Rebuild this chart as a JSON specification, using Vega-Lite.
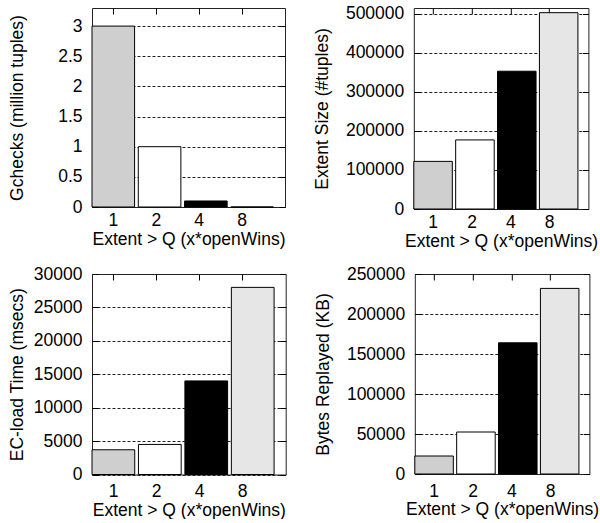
{
  "$schema": "https://vega.github.io/schema/vega-lite/v6.json",
  "background": "white",
  "padding": {"left": 7, "top": 4, "right": 0, "bottom": 0},
  "config": {
    "font": "Liberation Sans",
    "view": {"stroke": "#222", "strokeWidth": 1},
    "axis": {
      "labelFontSize": 17.5, "titleFontSize": 17.5, "titleFontWeight": "normal",
      "labelColor": "#000", "titleColor": "#000", "tickColor": "#000",
      "domain": false
    },
    "axisLeft": {"ticks": true, "tickSize": -6, "labelPadding": 16, "grid": true, "gridColor": "#222", "gridDash": [3, 2]},
    "axisRight": {"ticks": true, "tickSize": -6, "labels": false, "grid": false},
    "axisTop": {"ticks": true, "tickSize": -6, "labels": false, "grid": false},
    "axisBottom": {"ticks": false, "labelAngle": 0, "grid": false}
  },
  "columns": 2,
  "align": {"row": "all", "column": "none"},
  "bounds": "full",
  "spacing": {"row": 11, "column": 25.8},
  "concat": [
    {
      "width": 193, "height": 199,
      "data": {"values": [
        {"extent": "1", "value": 3.0},
        {"extent": "2", "value": 1.0},
        {"extent": "4", "value": 0.1},
        {"extent": "8", "value": 0}
      ]},
      "layer": [
        {
          "mark": {"type": "bar", "stroke": "#000", "strokeWidth": 1},
          "encoding": {
            "x": {"field": "extent", "type": "ordinal", "sort": ["1", "2", "4", "8"],
              "scale": {"paddingInner": 0.08, "paddingOuter": 0.125, "align": 0}, "axis": null},
            "y": {"field": "value", "type": "quantitative",
              "scale": {"domain": [0, 3.3], "nice": false},
              "axis": {"orient": "left", "title": "Gchecks (million tuples)", "values": [0, 0.5, 1, 1.5, 2, 2.5, 3], "format": "~g", "titlePadding": 31}},
            "fill": {"field": "extent", "type": "nominal",
              "scale": {"domain": ["1", "2", "4", "8"], "range": ["#cfcfcf", "#ffffff", "#000000", "#e6e6e6"]}, "legend": null}
          }
        },
        {
          "mark": {"type": "bar", "opacity": 0},
          "encoding": {
            "x": {"field": "extent", "type": "ordinal", "sort": ["1", "2", "4", "8"],
              "scale": {"paddingInner": 0, "paddingOuter": 0.25, "align": 0},
              "axis": {"orient": "bottom", "title": "Extent > Q (x*openWins)", "labelPadding": 4, "titlePadding": 2}},
            "y": {"field": "value", "type": "quantitative", "axis": {"orient": "right", "title": null, "values": [0, 0.5, 1, 1.5, 2, 2.5, 3]}}
          }
        },
        {
          "mark": {"type": "bar", "opacity": 0},
          "encoding": {
            "x": {"field": "extent", "type": "ordinal", "sort": ["1", "2", "4", "8"],
              "scale": {"paddingInner": 0, "paddingOuter": 0.25, "align": 0},
              "axis": {"orient": "top", "title": null}},
            "y": {"field": "value", "type": "quantitative", "axis": null}
          }
        }
      ],
      "resolve": {"scale": {"x": "independent"}, "axis": {"x": "independent", "y": "independent"}}
    },
    {
      "width": 174.6, "height": 201,
      "data": {"values": [
        {"extent": "1", "value": 122000},
        {"extent": "2", "value": 177000},
        {"extent": "4", "value": 353000},
        {"extent": "8", "value": 503000}
      ]},
      "layer": [
        {
          "mark": {"type": "bar", "stroke": "#000", "strokeWidth": 1},
          "encoding": {
            "x": {"field": "extent", "type": "ordinal", "sort": ["1", "2", "4", "8"],
              "scale": {"paddingInner": 0.08, "paddingOuter": 0.125, "align": 0}, "axis": null},
            "y": {"field": "value", "type": "quantitative",
              "scale": {"domain": [0, 515000], "nice": false},
              "axis": {"orient": "left", "title": "Extent Size (#tuples)", "values": [0, 100000, 200000, 300000, 400000, 500000], "format": "d", "titlePadding": 14}},
            "fill": {"field": "extent", "type": "nominal",
              "scale": {"domain": ["1", "2", "4", "8"], "range": ["#cfcfcf", "#ffffff", "#000000", "#e6e6e6"]}, "legend": null}
          }
        },
        {
          "mark": {"type": "bar", "opacity": 0},
          "encoding": {
            "x": {"field": "extent", "type": "ordinal", "sort": ["1", "2", "4", "8"],
              "scale": {"paddingInner": 0, "paddingOuter": 0.25, "align": 0},
              "axis": {"orient": "bottom", "title": "Extent > Q (x*openWins)", "labelPadding": 4, "titlePadding": 2}},
            "y": {"field": "value", "type": "quantitative", "axis": {"orient": "right", "title": null, "values": [0, 100000, 200000, 300000, 400000, 500000]}}
          }
        },
        {
          "mark": {"type": "bar", "opacity": 0},
          "encoding": {
            "x": {"field": "extent", "type": "ordinal", "sort": ["1", "2", "4", "8"],
              "scale": {"paddingInner": 0, "paddingOuter": 0.25, "align": 0},
              "axis": {"orient": "top", "title": null}},
            "y": {"field": "value", "type": "quantitative", "axis": null}
          }
        }
      ],
      "resolve": {"scale": {"x": "independent"}, "axis": {"x": "independent", "y": "independent"}}
    },
    {
      "width": 193.7, "height": 200.5,
      "data": {"values": [
        {"extent": "1", "value": 3700},
        {"extent": "2", "value": 4500},
        {"extent": "4", "value": 14000},
        {"extent": "8", "value": 28000}
      ]},
      "layer": [
        {
          "mark": {"type": "bar", "stroke": "#000", "strokeWidth": 1},
          "encoding": {
            "x": {"field": "extent", "type": "ordinal", "sort": ["1", "2", "4", "8"],
              "scale": {"paddingInner": 0.08, "paddingOuter": 0.125, "align": 0}, "axis": null},
            "y": {"field": "value", "type": "quantitative",
              "scale": {"domain": [0, 30000], "nice": false},
              "axis": {"orient": "left", "title": "EC-load Time (msecs)", "values": [0, 5000, 10000, 15000, 20000, 25000, 30000], "format": "d", "titlePadding": 7}},
            "fill": {"field": "extent", "type": "nominal",
              "scale": {"domain": ["1", "2", "4", "8"], "range": ["#cfcfcf", "#ffffff", "#000000", "#e6e6e6"]}, "legend": null}
          }
        },
        {
          "mark": {"type": "bar", "opacity": 0},
          "encoding": {
            "x": {"field": "extent", "type": "ordinal", "sort": ["1", "2", "4", "8"],
              "scale": {"paddingInner": 0, "paddingOuter": 0.25, "align": 0},
              "axis": {"orient": "bottom", "title": "Extent > Q (x*openWins)", "labelPadding": 8, "titlePadding": 1}},
            "y": {"field": "value", "type": "quantitative", "axis": {"orient": "right", "title": null, "values": [0, 5000, 10000, 15000, 20000, 25000, 30000]}}
          }
        },
        {
          "mark": {"type": "bar", "opacity": 0},
          "encoding": {
            "x": {"field": "extent", "type": "ordinal", "sort": ["1", "2", "4", "8"],
              "scale": {"paddingInner": 0, "paddingOuter": 0.25, "align": 0},
              "axis": {"orient": "top", "title": null}},
            "y": {"field": "value", "type": "quantitative", "axis": null}
          }
        }
      ],
      "resolve": {"scale": {"x": "independent"}, "axis": {"x": "independent", "y": "independent"}}
    },
    {
      "width": 174.6, "height": 200,
      "data": {"values": [
        {"extent": "1", "value": 22500},
        {"extent": "2", "value": 52500},
        {"extent": "4", "value": 164000},
        {"extent": "8", "value": 232000}
      ]},
      "layer": [
        {
          "mark": {"type": "bar", "stroke": "#000", "strokeWidth": 1},
          "encoding": {
            "x": {"field": "extent", "type": "ordinal", "sort": ["1", "2", "4", "8"],
              "scale": {"paddingInner": 0.08, "paddingOuter": 0.125, "align": 0}, "axis": null},
            "y": {"field": "value", "type": "quantitative",
              "scale": {"domain": [0, 250000], "nice": false},
              "axis": {"orient": "left", "title": "Bytes Replayed (KB)", "values": [0, 50000, 100000, 150000, 200000, 250000], "format": "d", "titlePadding": 14.4}},
            "fill": {"field": "extent", "type": "nominal",
              "scale": {"domain": ["1", "2", "4", "8"], "range": ["#cfcfcf", "#ffffff", "#000000", "#e6e6e6"]}, "legend": null}
          }
        },
        {
          "mark": {"type": "bar", "opacity": 0},
          "encoding": {
            "x": {"field": "extent", "type": "ordinal", "sort": ["1", "2", "4", "8"],
              "scale": {"paddingInner": 0, "paddingOuter": 0.25, "align": 0},
              "axis": {"orient": "bottom", "title": "Extent > Q (x*openWins)", "labelPadding": 8, "titlePadding": 1}},
            "y": {"field": "value", "type": "quantitative", "axis": {"orient": "right", "title": null, "values": [0, 50000, 100000, 150000, 200000, 250000]}}
          }
        },
        {
          "mark": {"type": "bar", "opacity": 0},
          "encoding": {
            "x": {"field": "extent", "type": "ordinal", "sort": ["1", "2", "4", "8"],
              "scale": {"paddingInner": 0, "paddingOuter": 0.25, "align": 0},
              "axis": {"orient": "top", "title": null}},
            "y": {"field": "value", "type": "quantitative", "axis": null}
          }
        }
      ],
      "resolve": {"scale": {"x": "independent"}, "axis": {"x": "independent", "y": "independent"}}
    }
  ]
}
